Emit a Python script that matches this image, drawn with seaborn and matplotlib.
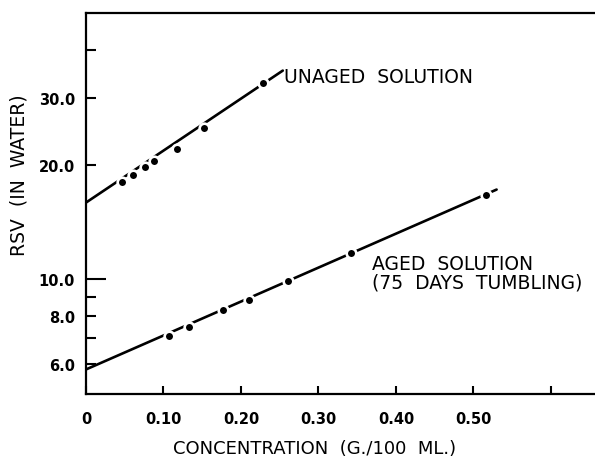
import matplotlib
matplotlib.use("Agg")
import matplotlib.pyplot as plt
import seaborn as sns
from matplotlib.ticker import FixedLocator, FixedFormatter

# Measured RSV values (reduced specific viscosity, in water)
conc_unaged = [0.047, 0.061, 0.076, 0.088, 0.118, 0.152, 0.229]
rsv_unaged = [18.0, 18.8, 19.7, 20.5, 22.0, 24.9, 32.8]

conc_aged = [0.107, 0.133, 0.177, 0.210, 0.261, 0.342, 0.516]
rsv_aged = [7.1, 7.5, 8.3, 8.8, 9.9, 11.7, 16.6]

# Straight-line fits (extrapolated to zero concentration)
fit_unaged_conc = [0.0, 0.254]
fit_unaged_rsv = [15.9, 35.3]
fit_aged_conc = [0.0, 0.530]
fit_aged_rsv = [5.8, 17.2]

x_ticks = [0.0, 0.1, 0.2, 0.3, 0.4, 0.5, 0.6]
x_tick_labels = ["0", "0.10", "0.20", "0.30", "0.40", "0.50", ""]
y_ticks = [6, 7, 8, 9, 20, 30, 40]
y_tick_labels = ["6.0", "", "8.0", "", "20.0", "30.0", ""]
y_long_tick = [10]
y_long_tick_label = ["10.0"]

sns.set_style("white", {"xtick.bottom": True, "ytick.left": True,
                        "text.color": "black", "axes.labelcolor": "black"})
plt.rcParams["font.family"] = ["DejaVu Sans"]

fig = plt.figure(figsize=(5.95, 4.6), dpi=100)
ax = fig.add_axes([86 / 595, 65 / 460, 509 / 595, 381 / 460])

for cx, cy in [(fit_unaged_conc, fit_unaged_rsv), (fit_aged_conc, fit_aged_rsv)]:
    sns.lineplot(x=cx, y=cy, ax=ax, color="black", linewidth=1.9,
                 estimator=None, sort=False, zorder=2)

for cx, cy in [(conc_unaged, rsv_unaged), (conc_aged, rsv_aged)]:
    sns.scatterplot(x=cx, y=cy, ax=ax, color="black", s=48,
                    edgecolor="white", linewidth=1.9, zorder=3)

ax.set_yscale("log")
ax.set_ylim(5, 50)
ax.set_xlim(0, 0.657)

ax.xaxis.set_major_locator(FixedLocator(x_ticks))
ax.xaxis.set_major_formatter(FixedFormatter(x_tick_labels))
ax.yaxis.set_major_locator(FixedLocator(y_ticks))
ax.yaxis.set_major_formatter(FixedFormatter(y_tick_labels))
ax.yaxis.set_minor_locator(FixedLocator(y_long_tick))
ax.yaxis.set_minor_formatter(FixedFormatter(y_long_tick_label))

ax.tick_params(axis="both", which="both", direction="in", color="black",
               width=1.5, labelsize=10.5, labelcolor="black",
               bottom=True, left=True, top=False, right=False)
ax.tick_params(axis="x", which="minor", bottom=False)
ax.tick_params(axis="x", length=6, pad=12)
ax.tick_params(axis="y", which="major", length=7.2, pad=8)
ax.tick_params(axis="y", which="minor", length=14.4, pad=8)
for lab in ax.get_xticklabels() + ax.get_yticklabels() + ax.get_yticklabels(minor=True):
    lab.set_fontweight("bold")

for side in ["left", "bottom", "top"]:
    ax.spines[side].set_visible(True)
    ax.spines[side].set_color("black")
    ax.spines[side].set_linewidth(1.6)
ax.spines["right"].set_visible(False)

ax.set_xlabel("CONCENTRATION  (G./100  ML.)", fontsize=13, color="black")
ax.xaxis.set_label_coords(0.45, -0.118)
ax.set_ylabel("RSV  (IN  WATER)", fontsize=13.5, color="black")
ax.yaxis.set_label_coords(-0.112, 0.577)

ax.text(0.2555, 32.9, "UNAGED  SOLUTION", fontsize=13.5, va="baseline",
        ha="left", color="black")
ax.text(0.369, 10.64, "AGED  SOLUTION", fontsize=13.5, va="baseline",
        ha="left", color="black")
ax.text(0.369, 9.49, "(75  DAYS  TUMBLING)", fontsize=13.5, va="baseline",
        ha="left", color="black")

fig.savefig("out.png", dpi=100)
